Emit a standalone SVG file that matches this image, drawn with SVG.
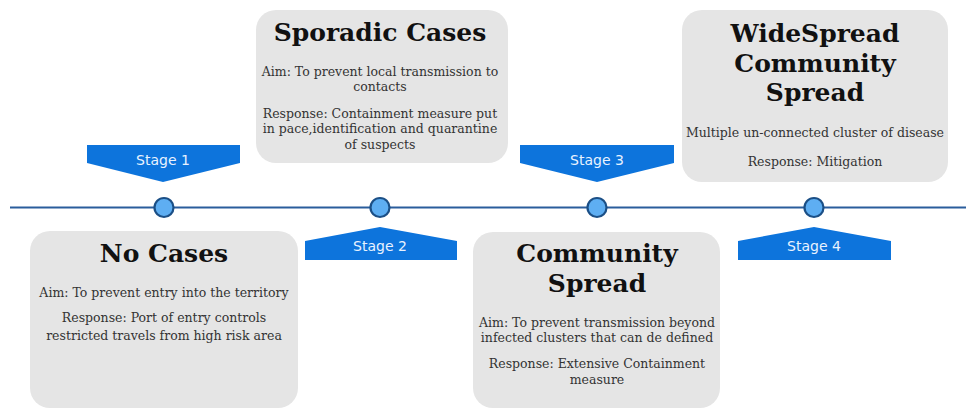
<svg xmlns="http://www.w3.org/2000/svg" width="966" height="409" viewBox="0 0 966 409">
  <style>
    .box { fill: #e5e5e5; }
    .title { font-family: "DejaVu Serif", serif; font-weight: bold; font-size: 25px; fill: #111; text-anchor: middle; }
    .body { font-family: "DejaVu Serif", serif; font-size: 12.5px; fill: #333; text-anchor: middle; }
    .tag { fill: #0d74dc; }
    .tagtext { font-family: "DejaVu Sans", sans-serif; font-size: 14px; fill: #e8f2ff; text-anchor: middle; }
    .dot { fill: #5eaef2; stroke: #1b4f86; stroke-width: 2.2; }
    .axis { stroke: #2a5d9c; stroke-width: 2; fill: none; }
  </style>

  <!-- timeline axis and stage markers -->
  <g id="connectors">
    <line class="axis" x1="10" y1="207.5" x2="966" y2="207.5"/>
    <circle class="dot" cx="164" cy="207.5" r="9.5"/>
    <circle class="dot" cx="380" cy="207.5" r="9.5"/>
    <circle class="dot" cx="597" cy="207.5" r="9.5"/>
    <circle class="dot" cx="814" cy="207.5" r="9.5"/>
  </g>

  <!-- stage tags -->
  <g id="stage1">
    <polygon class="tag" points="87,145 240,145 240,163 163,182 87,163"/>
    <text class="tagtext" x="163" y="165">Stage 1</text>
  </g>
  <g id="stage2">
    <polygon class="tag" points="305,241 380,227 457,241 457,260 305,260"/>
    <text class="tagtext" x="380" y="251">Stage 2</text>
  </g>
  <g id="stage3">
    <polygon class="tag" points="520,145 674,145 674,163 597,182 520,163"/>
    <text class="tagtext" x="597" y="165">Stage 3</text>
  </g>
  <g id="stage4">
    <polygon class="tag" points="738,241 814,227 891,241 891,260 738,260"/>
    <text class="tagtext" x="814" y="251">Stage 4</text>
  </g>

  <!-- stage description cards -->
  <g id="no-cases">
    <rect class="box" x="30" y="231" width="268" height="177" rx="20"/>
    <text class="title" x="164" y="262">No Cases</text>
    <text class="body" x="164" y="297">Aim: To prevent entry into the territory</text>
    <text class="body" x="164" y="322">Response: Port of entry controls</text>
    <text class="body" x="164" y="340">restricted travels from high risk area</text>
  </g>

  <g id="sporadic-cases">
    <rect class="box" x="256" y="10" width="252" height="153" rx="20"/>
    <text class="title" x="380" y="41">Sporadic Cases</text>
    <text class="body" x="380" y="76">Aim: To prevent local transmission to</text>
    <text class="body" x="380" y="91">contacts</text>
    <text class="body" x="380" y="118">Response: Containment measure put</text>
    <text class="body" x="380" y="133">in pace,identification and quarantine</text>
    <text class="body" x="380" y="149">of suspects</text>
  </g>

  <g id="community-spread">
    <rect class="box" x="473" y="232" width="247" height="176" rx="20"/>
    <text class="title" x="597" y="262">Community</text>
    <text class="title" x="597" y="292">Spread</text>
    <text class="body" x="597" y="327">Aim: To prevent transmission beyond</text>
    <text class="body" x="597" y="342">infected clusters that can de defined</text>
    <text class="body" x="597" y="368">Response: Extensive Containment</text>
    <text class="body" x="597" y="384">measure</text>
  </g>

  <g id="widespread">
    <rect class="box" x="682" y="10" width="266" height="172" rx="20"/>
    <text class="title" x="815" y="42">WideSpread</text>
    <text class="title" x="815" y="72">Community</text>
    <text class="title" x="815" y="101">Spread</text>
    <text class="body" x="815" y="137">Multiple un-connected cluster of disease</text>
    <text class="body" x="815" y="166">Response: Mitigation</text>
  </g>
</svg>
